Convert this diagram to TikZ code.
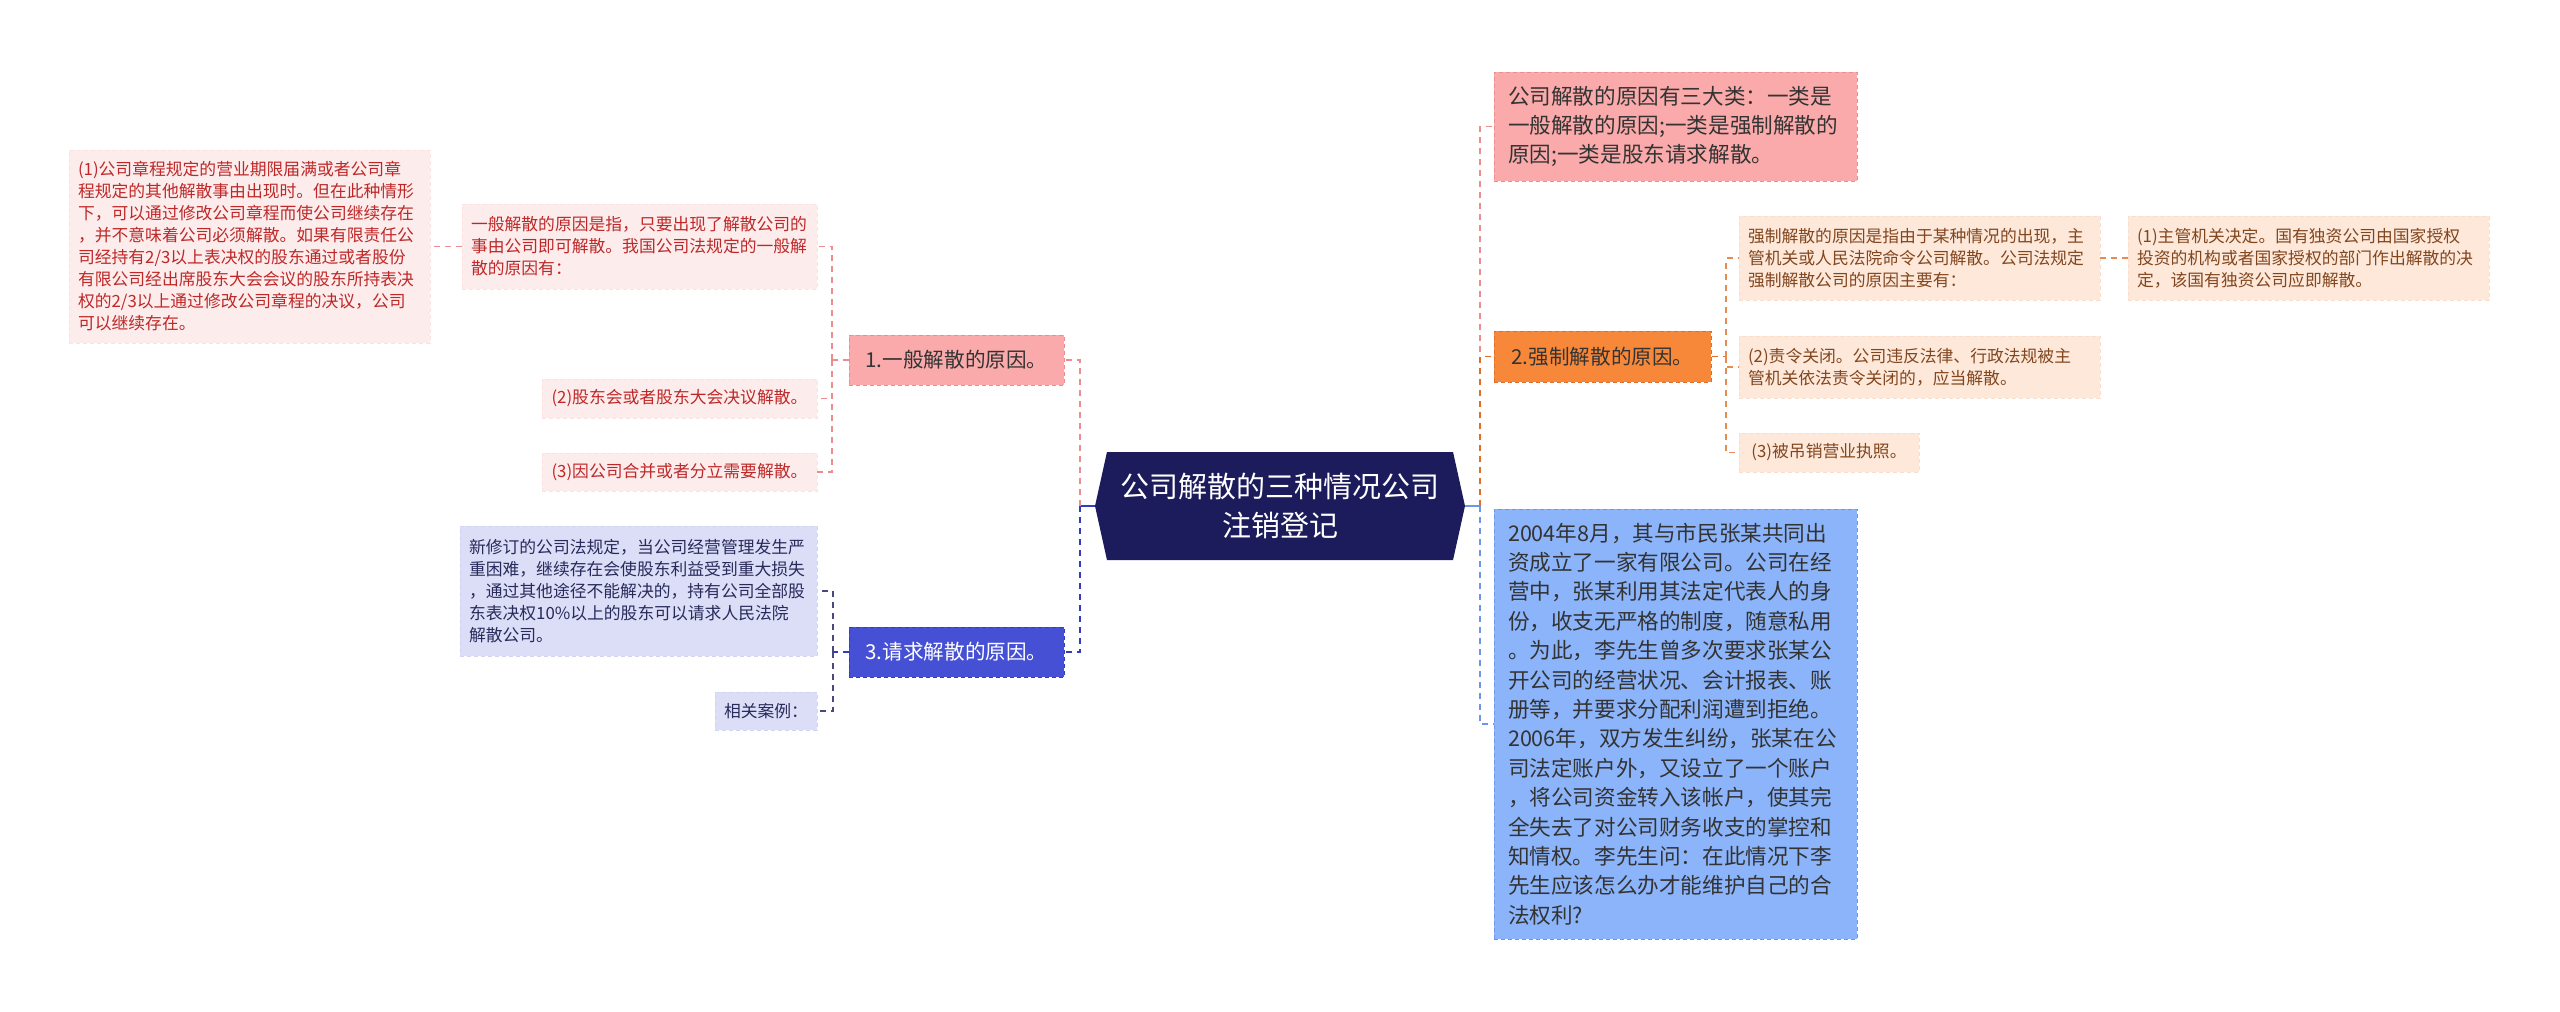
\documentclass[tikz,border=0pt]{standalone}
\usepackage{fontspec}
\setmainfont{Noto Sans CJK SC}
\usetikzlibrary{shapes.symbols}
\definecolor{mapnavy}{RGB}{28,27,92}
\definecolor{mappink}{RGB}{250,170,170}
\definecolor{mappinkdk}{RGB}{236,140,140}
\definecolor{mapblue}{RGB}{70,80,212}
\definecolor{mapbluedk}{RGB}{50,60,190}
\definecolor{maporange}{RGB}{247,136,58}
\definecolor{maporangedk}{RGB}{225,110,40}
\definecolor{mapsky}{RGB}{140,180,250}
\definecolor{mapskydk}{RGB}{110,150,230}
\definecolor{maptext}{RGB}{51,51,51}
\definecolor{leafpink}{RGB}{253,236,236}
\definecolor{leafpinkdk}{RGB}{251,225,225}
\definecolor{leafred}{RGB}{190,40,40}
\definecolor{leaflav}{RGB}{220,222,248}
\definecolor{leaflavdk}{RGB}{210,212,244}
\definecolor{leafnavy}{RGB}{40,42,90}
\definecolor{leafpeach}{RGB}{253,232,218}
\definecolor{leafpeachdk}{RGB}{250,222,204}
\definecolor{leafbrown}{RGB}{130,70,30}

\begin{document}
\begin{tikzpicture}[x=0.5pt,y=-0.5pt,
    topic/.style={signal,signal to=west and east,signal pointer angle=155,fill=mapnavy,text=white,
      font=\fontsize{14.5}{19.6}\selectfont,align=center,minimum width=185pt,minimum height=54pt,inner sep=0pt},
    mainbox/.style={draw,dash pattern=on 2pt off 1.5pt,line width=0.5pt,inner xsep=7pt,inner ysep=0pt,
      align=left,text=maptext,font=\fontsize{10.8}{14.7}\selectfont},
    headbox/.style={mainbox,font=\fontsize{10.3}{14}\selectfont,minimum width=107.5pt,minimum height=25pt},
    leafbox/.style={draw,dash pattern=on 2pt off 1.5pt,line width=0.4pt,inner xsep=4.5pt,inner ysep=0pt,
      align=left,font=\fontsize{8.4}{11}\selectfont},
    redleaf/.style={leafbox,fill=leafpink,draw=leafpinkdk,text=leafred},
    lavleaf/.style={leafbox,fill=leaflav,draw=leaflavdk,text=leafnavy},
    peachleaf/.style={leafbox,fill=leafpeach,draw=leafpeachdk,text=leafbrown},
    link/.style={dash pattern=on 3pt off 2.5pt,line width=0.8pt}]
  \useasboundingbox (0,0) rectangle (2560,1012);
  \node[topic] (root) at (1280,506) {公司解散的三种情况公司\\注销登记};
  \node[headbox,fill=mappink,draw=mappinkdk] (gen) at (956.5,360) {1.一般解散的原因。};
  \node[headbox,fill=mapblue,draw=mapbluedk,text=white] (req) at (956.5,652) {3.请求解散的原因。};
  \node[redleaf,text width=168.5pt,minimum height=42.5pt] (genA) at (639.5,246.5) {一般解散的原因是指，只要出现了解散公司的\\事由公司即可解散。我国公司法规定的一般解\\散的原因有：};
  \node[redleaf,minimum width=137.5pt,minimum height=19.5pt] (genB) at (679.5,398.5) {(2)股东会或者股东大会决议解散。};
  \node[redleaf,minimum width=137.5pt,minimum height=19pt] (genC) at (679.5,472) {(3)因公司合并或者分立需要解散。};
  \node[redleaf,text width=171.5pt,minimum height=96.5pt] (genA1) at (249.5,246.5) {(1)公司章程规定的营业期限届满或者公司章\\程规定的其他解散事由出现时。但在此种情形\\下，可以通过修改公司章程而使公司继续存在\\，并不意味着公司必须解散。如果有限责任公\\司经持有2/3以上表决权的股东通过或者股份\\有限公司经出席股东大会会议的股东所持表决\\权的2/3以上通过修改公司章程的决议，公司\\可以继续存在。};
  \node[lavleaf,text width=169.5pt,minimum height=65pt] (reqA) at (638.5,591) {新修订的公司法规定，当公司经营管理发生严\\重困难，继续存在会使股东利益受到重大损失\\，通过其他途径不能解决的，持有公司全部股\\东表决权10\%以上的股东可以请求人民法院\\解散公司。};
  \node[lavleaf,minimum width=51pt,minimum height=19pt] (reqB) at (766,711) {相关案例：};
  \node[mainbox,fill=mappink,draw=mappinkdk,text width=167.5pt,minimum height=54.5pt] (kinds) at (1675.5,126.5) {公司解散的原因有三大类：一类是\\一般解散的原因;一类是强制解散的\\原因;一类是股东请求解散。};
  \node[headbox,fill=maporange,draw=maporangedk,minimum width=108.5pt,minimum height=25.5pt] (force) at (1602.5,356.5) {2.强制解散的原因。};
  \node[mainbox,fill=mapsky,draw=mapskydk,text width=167.5pt,minimum height=215pt] (story) at (1675.5,724) {2004年8月，其与市民张某共同出\\资成立了一家有限公司。公司在经\\营中，张某利用其法定代表人的身\\份，收支无严格的制度，随意私用\\。为此，李先生曾多次要求张某公\\开公司的经营状况、会计报表、账\\册等，并要求分配利润遭到拒绝。\\2006年，双方发生纠纷，张某在公\\司法定账户外，又设立了一个账户\\，将公司资金转入该帐户，使其完\\全失去了对公司财务收支的掌控和\\知情权。李先生问：在此情况下李\\先生应该怎么办才能维护自己的合\\法权利?};
  \node[peachleaf,text width=171.5pt,minimum height=42pt] (forceA) at (1919.5,258) {强制解散的原因是指由于某种情况的出现，主\\管机关或人民法院命令公司解散。公司法规定\\强制解散公司的原因主要有：};
  \node[peachleaf,text width=171.5pt,minimum height=31pt] (forceB) at (1919.5,367) {(2)责令关闭。公司违反法律、行政法规被主\\管机关依法责令关闭的，应当解散。};
  \node[peachleaf,minimum width=90pt,minimum height=19.5pt] (forceC) at (1829,452.5) {(3)被吊销营业执照。};
  \node[peachleaf,text width=171.5pt,minimum height=42pt] (forceA1) at (2308.5,258) {(1)主管机关决定。国有独资公司由国家授权\\投资的机构或者国家授权的部门作出解散的决\\定，该国有独资公司应即解散。};
  \coordinate (lhub) at (1080,506);
  \coordinate (rhub) at (1480,506);
  \coordinate (genhub) at (832,360);
  \coordinate (reqhub) at (833,652);
  \coordinate (forcehub) at (1726,356.5);
  \draw[mapbluedk,line width=0.9pt] (root.west) -- (lhub);
  \draw[mapskydk,line width=0.9pt] (root.east) -- (rhub);
  \draw[link,mappinkdk] (lhub) |- (gen.east);
  \draw[link,mapbluedk] (lhub) |- (req.east);
  \draw[link,mappinkdk] (gen.west) -- (genhub);
  \foreach \leaf in {genA,genB,genC} \draw[link,mappinkdk] (genhub) |- (\leaf.east);
  \draw[link,mappinkdk] (genA.west) -- (genA1.east);
  \draw[link,mapbluedk] (req.west) -- (reqhub);
  \foreach \leaf in {reqA,reqB} \draw[link,mapnavy!80] (reqhub) |- (\leaf.east);
  \draw[link,mappinkdk] (rhub) |- (kinds.west);
  \draw[link,mapskydk] (rhub) |- (story.west);
  \draw[link,maporangedk] (rhub) |- (force.west);
  \draw[link,maporangedk] (force.east) -- (forcehub);
  \foreach \leaf in {forceA,forceB,forceC} \draw[link,maporangedk!80] (forcehub) |- (\leaf.west);
  \draw[link,maporangedk!80] (forceA.east) -- (forceA1.west);
\end{tikzpicture}
\end{document}
